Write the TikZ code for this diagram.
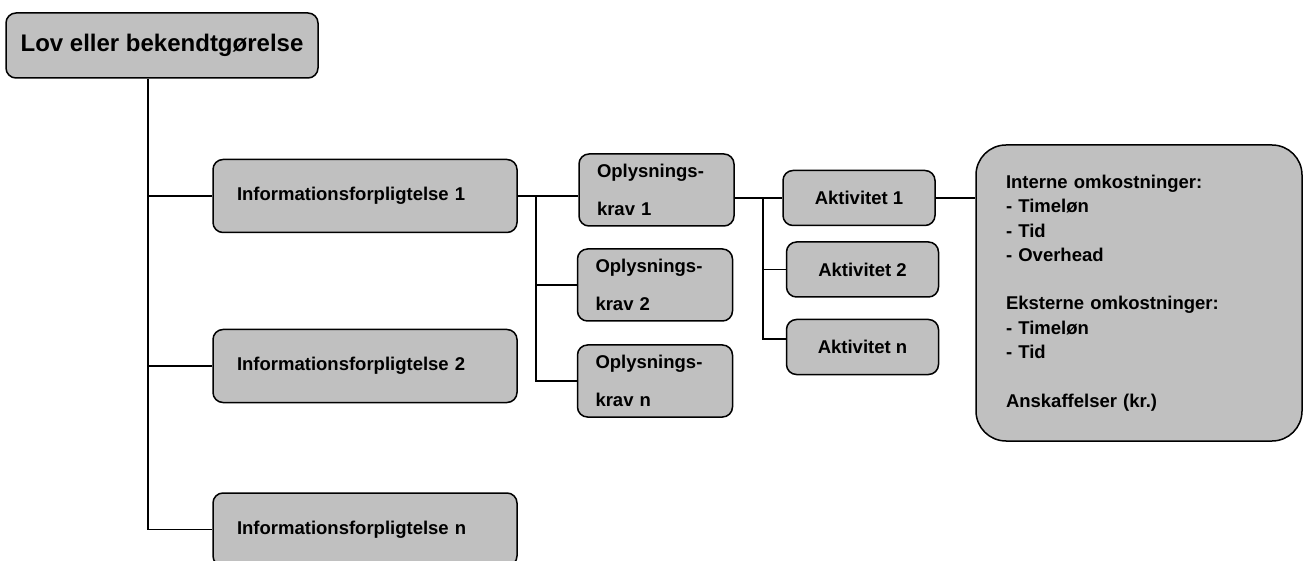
\documentclass[tikz,border=0pt]{standalone}
\usepackage{fontspec}
\setmainfont{Liberation Sans}
\usetikzlibrary{positioning, calc}
\definecolor{boxgray}{HTML}{C0C0C0}
\definecolor{ink}{HTML}{000000}

\begin{document}
\begin{tikzpicture}[x=1pt, y=-1pt, line width=1.3pt, draw=ink,
  box/.style={draw=ink, fill=boxgray, line width=1.5pt, rounded corners=10pt,
    inner ysep=0pt, font=\fontsize{18.5}{24.3}\selectfont\bfseries},
  infobox/.style={box, text width=256pt, inner xsep=24pt, align=left, minimum height=73pt},
  kravbox/.style={box, text width=119pt, inner xsep=18pt, align=left, minimum height=72pt,
    font=\fontsize{18.5}{38}\selectfont\bfseries},
  aktbox/.style={box, minimum width=152pt, minimum height=55pt},
  costbox/.style={box, text width=266pt, inner xsep=30pt, align=left,
    minimum height=296pt, rounded corners=30pt}]

% Frame
\clip (0,0) rectangle (1304,561);

% --- Boxes ---
\node[box, minimum width=312pt, minimum height=65pt,
  font=\fontsize{24}{28}\selectfont\bfseries] (lov) at (162,45.5) {Lov eller bekendtgørelse};

\node[infobox] (inf1) at (365,196) {Informationsforpligtelse 1};
\node[infobox] (inf2) at (365,366) {Informationsforpligtelse 2};
\node[infobox] (inf3) at (365,529.5) {Informationsforpligtelse n};

\node[kravbox] (opl1) at (656.5,190) {Oplysnings-\\krav 1};
\node[kravbox] (opl2) at (655,285) {Oplysnings-\\krav 2};
\node[kravbox] (opl3) at (655,381) {Oplysnings-\\krav n};

\node[aktbox] (akt1) at (859,198) {Aktivitet 1};
\node[aktbox] (akt2) at (862.5,269.5) {Aktivitet 2};
\node[aktbox] (akt3) at (862.5,347) {Aktivitet n};

\node[costbox] (cost) at (1139,293)
  {Interne omkostninger:\\
   - Timeløn\\
   - Tid\\
   - Overhead\\[24.3pt]
   Eksterne omkostninger:\\
   - Timeløn\\
   - Tid\\[24.3pt]
   Anskaffelser (kr.)};

% --- Connectors ---
\coordinate (trunk) at (148,0);
\coordinate (fork1) at (536,0);
\coordinate (fork2) at (763,0);

\draw (lov.south -| trunk) |- (inf3.west);
\draw (trunk |- inf1.west) -- (inf1.west);
\draw (trunk |- inf2.west) -- (inf2.west);

\draw (inf1.east) -- (inf1.east -| opl1.west);
\draw (inf1.east -| fork1) |- (opl3.west);
\draw (fork1 |- opl2.west) -- (opl2.west);

\draw (opl1.east |- akt1.west) -- (akt1.west);
\draw (akt1.west -| fork2) |- ([yshift=8pt]akt3.west);
\draw (fork2 |- akt2.west) -- (akt2.west);

\draw (akt1.east) -- (akt1.east -| cost.west);

\end{tikzpicture}
\end{document}
